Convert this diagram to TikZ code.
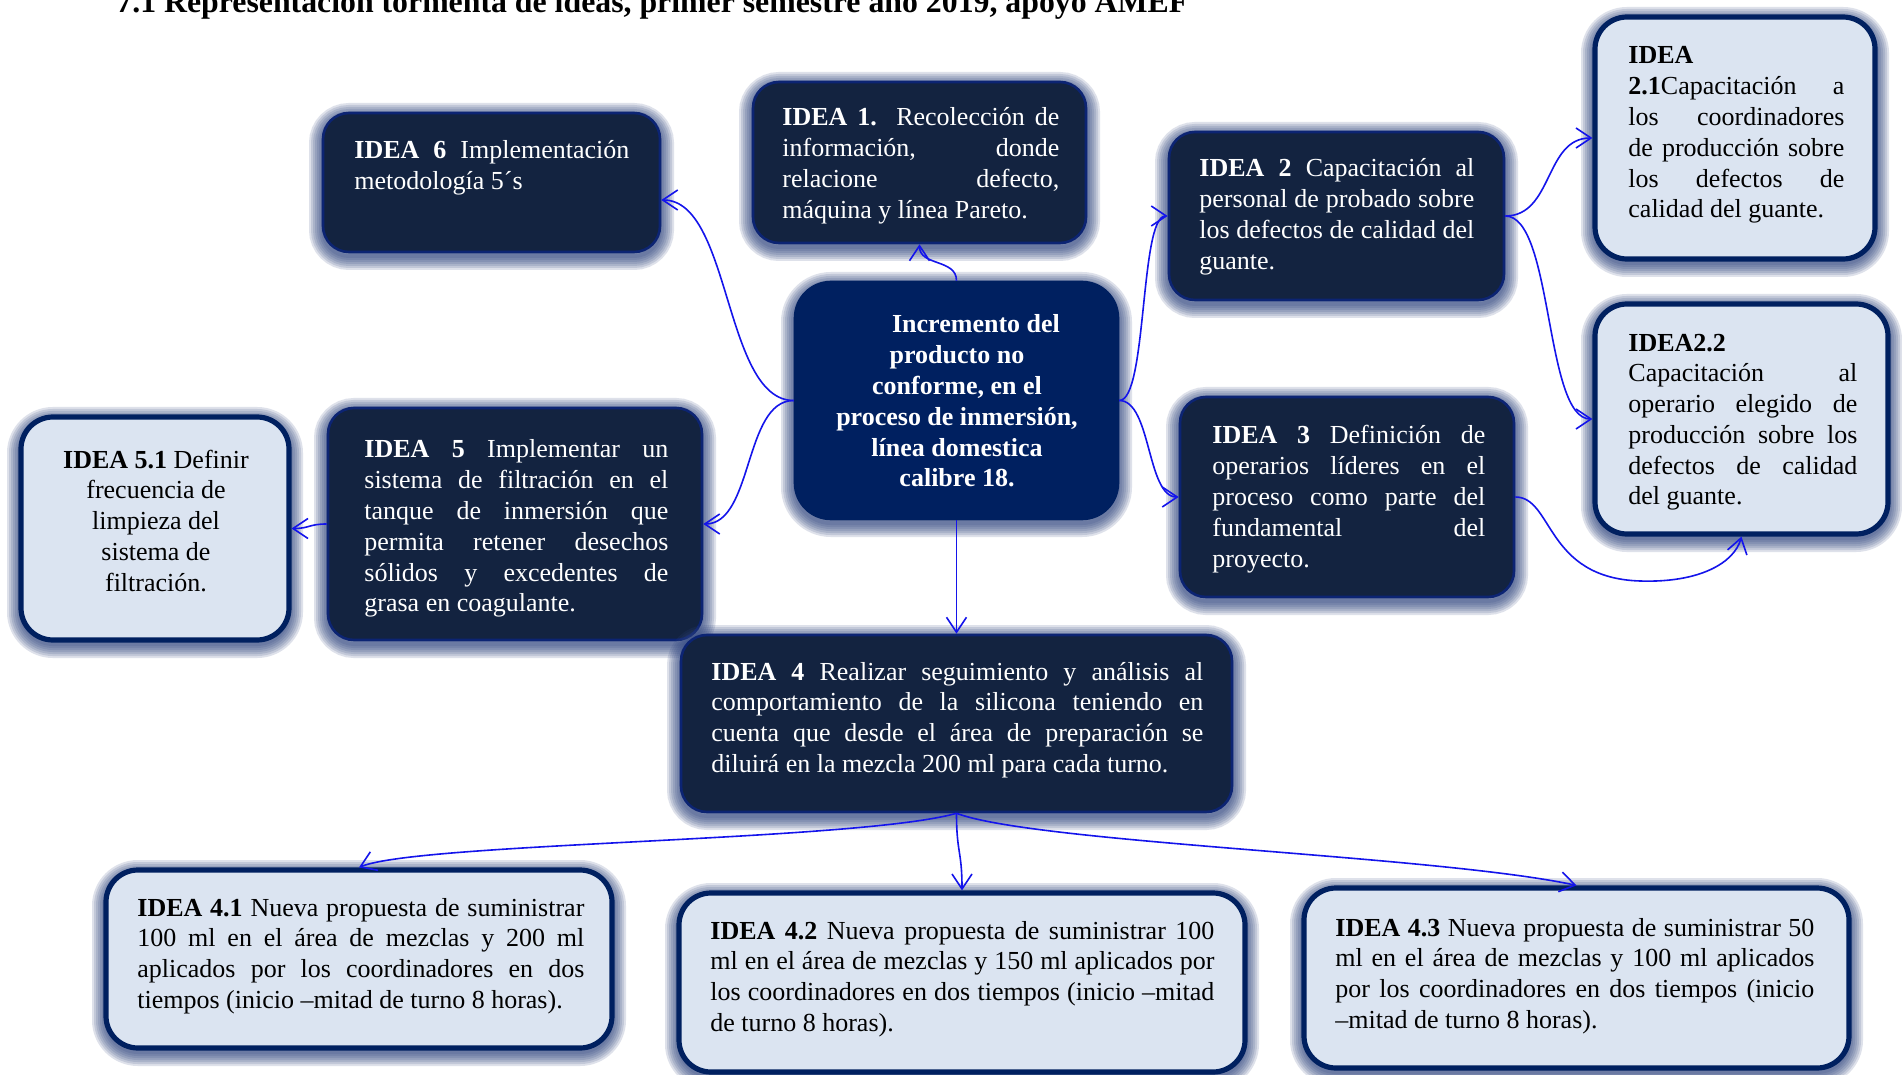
\documentclass[tikz,border=0pt]{standalone}
\usepackage{fontspec}
\setmainfont{Liberation Serif}
\usetikzlibrary{arrows.meta}
\definecolor{darkfill}{RGB}{19,35,64}
\definecolor{centfill}{RGB}{0,32,96}
\definecolor{bordc}{RGB}{12,36,115}
\definecolor{lightfill}{RGB}{219,228,241}
\definecolor{lbord}{RGB}{0,32,96}
\definecolor{glowc}{RGB}{50,70,128}
\definecolor{arrc}{RGB}{20,20,235}
\newcommand\fs{\fontsize{13pt}{15.4pt}\selectfont}
\newcommand\jl[1]{\makebox[\linewidth][s]{#1}\par}
\tikzset{
  gl/.style={preaction={transform canvas={yshift=-2pt}, draw=glowc, draw opacity=0.16, line width=#1}},
  glow/.style={gl=14pt, gl=12pt, gl=10pt, gl=8pt, gl=6pt, gl=4pt, gl=2pt},
  dbox/.style={glow, rectangle, rounded corners=13pt, fill=darkfill, draw=bordc, line width=1.3pt, inner sep=0pt},
  cbox/.style={glow, rectangle, rounded corners=18pt, fill=centfill, draw=centfill, line width=1.3pt, inner sep=0pt},
  lbox/.style={glow, rectangle, rounded corners=16pt, fill=lightfill, draw=lbord, line width=2.6pt, inner sep=0pt},
  wtxt/.style={text=white, inner sep=0pt, font=\fs},
  btxt/.style={text=black, inner sep=0pt, font=\fs},
  conn/.style={draw=arrc, line width=0.8pt, -{Straight Barb[length=7.5pt,width=10pt]}}
}
\begin{document}
\begin{tikzpicture}[x=0.5pt,y=-0.5pt]
\useasboundingbox (0,0) rectangle (1902,1075);
\fill[white] (0,0) rectangle (1902,1075);

\node[anchor=base west, inner sep=0pt, font=\bfseries\fontsize{15.9pt}{18pt}\selectfont] (title) at (116,13) {7.1 Representación tormenta de ideas, primer semestre año 2019, apoyo AMEF};

% boxes
\node[dbox, minimum width=168.5pt, minimum height=69.5pt] (n6) at (491.5,182.5) {};
\node[dbox, minimum width=166.5pt, minimum height=80.5pt] (n1) at (919.5,162.5) {};
\node[cbox, minimum width=161.5pt, minimum height=118.5pt] (c) at (956.5,400.5) {};
\node[dbox, minimum width=167.5pt, minimum height=84pt] (n2) at (1336.5,216) {};
\node[lbox, minimum width=140pt, minimum height=121pt] (n21) at (1735,138) {};
\node[lbox, minimum width=146.5pt, minimum height=115pt] (n22) at (1741.5,419) {};
\node[dbox, minimum width=167pt, minimum height=100pt] (n3) at (1347,497) {};
\node[lbox, minimum width=134pt, minimum height=111.5pt] (n51) at (155,528.5) {};
\node[dbox, minimum width=187pt, minimum height=116pt] (n5) at (515,524) {};
\node[dbox, minimum width=275.5pt, minimum height=88.5pt] (n4) at (956.5,723.5) {};
\node[lbox, minimum width=253pt, minimum height=89pt] (n41) at (359,959) {};
\node[lbox, minimum width=283pt, minimum height=89.5pt] (n42) at (962,982.5) {};
\node[lbox, minimum width=272.5pt, minimum height=90pt] (n43) at (1576.5,978) {};

% texts
\node[wtxt, anchor=base west] (t6) at (354,159) {\parbox[t]{137.5pt}{\jl{\textbf{IDEA 6} Implementación}metodología 5´s}};
\node[wtxt, anchor=base west] (t1) at (782,126) {\parbox[t]{138.5pt}{\jl{\textbf{IDEA 1.} Recolección de}\jl{información, donde}\jl{relacione defecto,}máquina y línea Pareto.}};
\node[wtxt, anchor=base] (tc) at (957,333) {\parbox[t]{150pt}{\centering\bfseries\hspace*{19pt}Incremento del\\producto no\\conforme, en el\\proceso de inmersión,\\línea domestica\\calibre 18.}};
\node[wtxt, anchor=base west] (t2) at (1199,177) {\parbox[t]{137.5pt}{\jl{\textbf{IDEA 2} Capacitación al}\jl{personal de probado sobre}\jl{los defectos de calidad del}guante.}};
\node[btxt, anchor=base west] (t21) at (1628,64) {\parbox[t]{108pt}{\textbf{IDEA}\par\jl{\textbf{2.1}Capacitación a}\jl{los coordinadores}\jl{de producción sobre}\jl{los defectos de}calidad del guante.}};
\node[btxt, anchor=base west] (t22) at (1628,351) {\parbox[t]{114.5pt}{\textbf{IDEA2.2}\par\jl{Capacitación al}\jl{operario elegido de}\jl{producción sobre los}\jl{defectos de calidad}del guante.}};
\node[wtxt, anchor=base west] (t3) at (1212,444) {\parbox[t]{136.5pt}{\jl{\textbf{IDEA 3} Definición de}\jl{operarios líderes en el}\jl{proceso como parte del}\jl{fundamental del}proyecto.}};
\node[wtxt, anchor=base west] (t5) at (364,458) {\parbox[t]{152pt}{\jl{\textbf{IDEA 5} Implementar un}\jl{sistema de filtración en el}\jl{tanque de inmersión que}\jl{permita retener desechos}\jl{sólidos y excedentes de}grasa en coagulante.}};
\node[btxt, anchor=base] (t51) at (156,468) {\parbox[t]{125pt}{\centering\textbf{IDEA 5.1} Definir\\frecuencia de\\limpieza del\\sistema de\\filtración.}};
\node[wtxt, anchor=base west] (t4) at (711,680) {\parbox[t]{246pt}{\jl{\textbf{IDEA 4} Realizar seguimiento y análisis al}\jl{comportamiento de la silicona teniendo en}\jl{cuenta que desde el área de preparación se}diluirá en la mezcla 200 ml para cada turno.}};
\node[btxt, anchor=base west] (t41) at (137,916) {\parbox[t]{223.5pt}{\jl{\textbf{IDEA 4.1} Nueva propuesta de suministrar}\jl{100 ml en el área de mezclas y 200 ml}\jl{aplicados por los coordinadores en dos}tiempos (inicio –mitad de turno 8 horas).}};
\node[btxt, anchor=base west] (t42) at (710,939) {\parbox[t]{252pt}{\jl{\textbf{IDEA 4.2} Nueva propuesta de suministrar 100}\jl{ml en el área de mezclas y 150 ml aplicados por}\jl{los coordinadores en dos tiempos (inicio –mitad}de turno 8 horas).}};
\node[btxt, anchor=base west] (t43) at (1335,936) {\parbox[t]{239.5pt}{\jl{\textbf{IDEA 4.3} Nueva propuesta de suministrar 50}\jl{ml en el área de mezclas y 100 ml aplicados}\jl{por los coordinadores en dos tiempos (inicio}–mitad de turno 8 horas).}};

% connectors
\coordinate (b3) at (1640,581);
\draw[conn] (c.north) .. controls +(0,-22) and +(0,22) .. (n1.south);
\draw[conn] (c.west) .. controls +(-70,0) and +(70,0) .. ([yshift=-8.75pt]n6.east);
\draw[conn] (c.west) .. controls +(-50,0) and +(50,0) .. (n5.east);
\draw[conn] (c.east) .. controls +(28,0) and +(-28,0) .. (n2.west);
\draw[conn] (c.east) .. controls +(32,0) and +(-32,0) .. (n3.west);
\draw[conn] (n2.east) .. controls +(48,0) and +(-48,0) .. (n21.west);
\draw[conn] (n2.east) .. controls +(48,0) and +(-48,0) .. (n22.west);
\draw[conn] (n3.east) .. controls +(38,0) and +(-95,-3) .. (b3) .. controls +(60,2) and +(-7,26) .. (n22.south);
\draw[conn] (n5.west) .. controls +(-18,0) and +(18,0) .. (n51.east);
\draw[conn] (c.south) -- (n4.north);
\draw[conn] (n4.south) .. controls +(-100,28) and +(60,-25) .. (n41.north);
\draw[conn] (n4.south) .. controls +(0,40) and +(0,-40) .. (n42.north);
\draw[conn] (n4.south) .. controls +(80,30) and +(-140,-30) .. (n43.north);
\end{tikzpicture}
\end{document}
